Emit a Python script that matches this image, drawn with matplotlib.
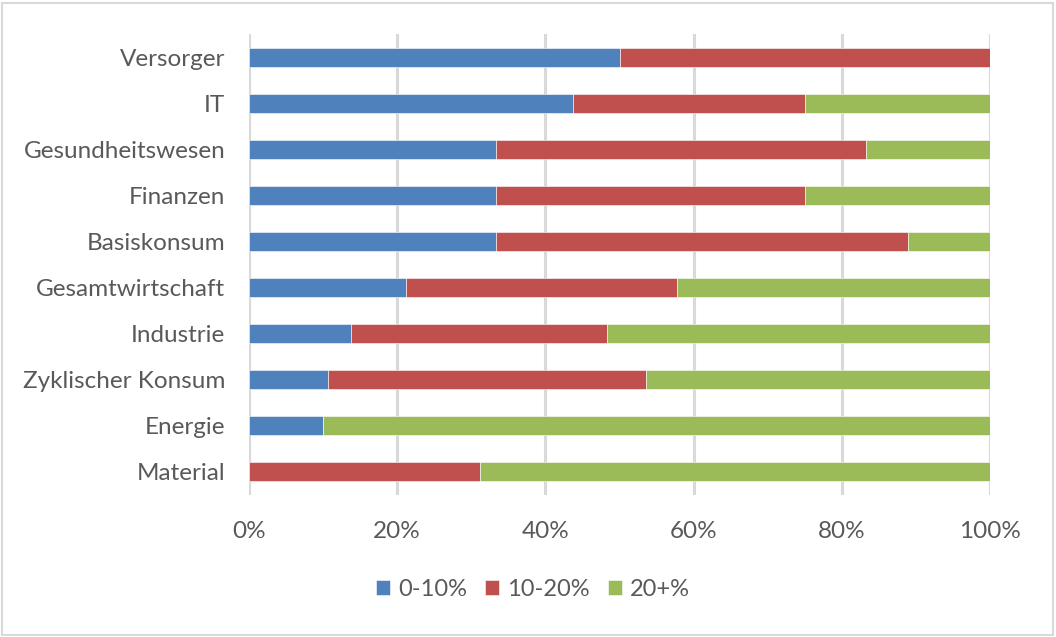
import matplotlib
matplotlib.use("Agg")
import matplotlib.pyplot as plt
from matplotlib.ticker import FuncFormatter
from matplotlib.patches import Rectangle
import numpy as np

categories = ["Versorger", "IT", "Gesundheitswesen", "Finanzen", "Basiskonsum",
              "Gesamtwirtschaft", "Industrie", "Zyklischer Konsum", "Energie", "Material"]
s_0_10 = [50.0, 43.75, 33.3, 33.3, 33.3, 21.2, 13.8, 10.7, 10.0, 0.0]
s_10_20 = [50.0, 31.25, 50.0, 41.7, 55.6, 36.6, 34.5, 42.9, 0.0, 31.2]
s_20p = [0.0, 25.0, 16.7, 25.0, 11.1, 42.2, 51.7, 46.4, 90.0, 68.8]
series_names = ["0-10%", "10-20%", "20+%"]
colors = ["#4F81BD", "#C0504D", "#9BBB59"]
xticks = [0, 20, 40, 60, 80, 100]

plt.rcParams['font.family'] = ['Lato', 'DejaVu Sans']
text_color = "#595959"
fs = 17.5

fig = plt.figure(figsize=(10.56, 6.37), dpi=100)
ax = fig.add_axes([249/1056, 1 - 495/637, (990-249)/1056, (495-34)/637])

y = np.arange(len(categories))
left = np.zeros(len(categories))
for vals, name, c in zip([s_0_10, s_10_20, s_20p], series_names, colors):
    ax.barh(y, vals, left=left, height=0.41, color=c, label=name,
            edgecolor="white", linewidth=0.4, zorder=3)
    left = left + np.array(vals)

ax.set_xlim(0, 100)
ax.set_ylim(len(categories) - 0.5, -0.5)
ax.set_yticks(y)
ax.set_yticklabels(categories, fontsize=fs, color=text_color)
ax.set_xticks(xticks)
ax.xaxis.set_major_formatter(FuncFormatter(lambda v, p: f"{int(v)}%"))
ax.tick_params(axis='x', labelsize=fs, labelcolor=text_color, length=0, pad=19)
ax.tick_params(axis='y', length=0, pad=17)
ax.grid(axis='x', color="#D9D9D9", linewidth=2.2, zorder=0)
for s in ax.spines.values():
    s.set_visible(False)

leg = fig.legend(loc='center', bbox_to_anchor=(533/1056, 1 - 589/637), ncol=3,
                 frameon=False, fontsize=17, handlelength=0.6, handleheight=0.6,
                 handletextpad=0.35, columnspacing=0.75, labelcolor=text_color)

fig.patches.append(Rectangle((2/1056, 2/637), 1 - 5/1056, 1 - 5/637, transform=fig.transFigure,
                             fill=False, edgecolor="#D9D9D9", linewidth=1.5))

fig.savefig("out.png", dpi=100)
